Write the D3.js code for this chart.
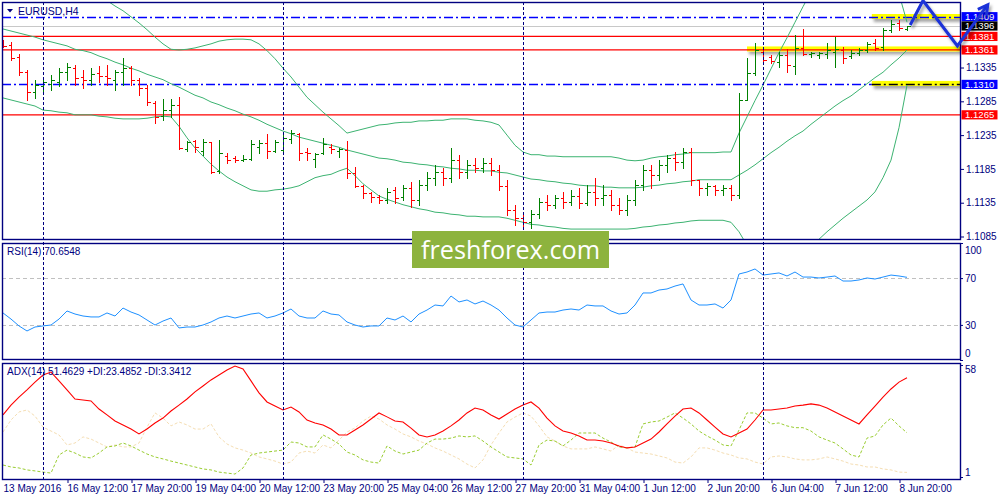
<!DOCTYPE html>
<html><head><meta charset="utf-8">
<script src="https://d3js.org/d3.v7.min.js"></script>
<style>
html,body{margin:0;padding:0;background:#fff;}
svg{display:block;font-family:"Liberation Sans",Arial,sans-serif;}
</style></head><body>
<svg id="chart" width="1000" height="500"></svg>
<script>
// ---------------- DATA ----------------
const symbolTitle = "EURUSD,H4";
const tickIdx = [0,8,16,24,32,40,48,56,64,72,80,88,96,104,112];
const tickLabels = ["13 May 2016","16 May 12:00","17 May 20:00","19 May 04:00","20 May 12:00","23 May 20:00","25 May 04:00","26 May 12:00","27 May 20:00","31 May 04:00","1 Jun 12:00","2 Jun 20:00","6 Jun 04:00","7 Jun 12:00","8 Jun 20:00"];
const weekSepIdx = [5,35,65,95];

const open = [1.1373,1.1368,1.1351,1.1328,1.1299,1.1308,1.1311,1.1314,1.1328,1.1334,
1.1321,1.1317,1.1327,1.1323,1.1317,1.1328,1.1334,1.1317,1.1305,1.1283,
1.1263,1.1272,1.1280,1.1214,1.1226,1.1212,1.1225,1.1182,1.1204,1.1201,
1.1198,1.1200,1.1217,1.1223,1.1212,1.1213,1.1229,1.1237,1.1210,1.1200,
1.1209,1.1217,1.1212,1.1213,1.1179,1.1160,1.1149,1.1143,1.1139,1.1154,
1.1143,1.1157,1.1139,1.1161,1.1172,1.1180,1.1172,1.1198,1.1180,1.1191,
1.1186,1.1194,1.1183,1.1160,1.1124,1.1112,1.1106,1.1118,1.1136,1.1132,
1.1142,1.1136,1.1145,1.1135,1.1151,1.1142,1.1146,1.1132,1.1124,1.1139,
1.1161,1.1183,1.1176,1.1191,1.1201,1.1195,1.1210,1.1169,1.1157,1.1160,
1.1154,1.1157,1.1146,1.1287,1.1327,1.1358,1.1351,1.1343,1.1354,1.1337,
1.1364,1.1355,1.1354,1.1355,1.1358,1.1361,1.1352,1.1357,1.1361,1.1371,
1.1365,1.1391,1.1401,1.1392];
const high = [1.1376,1.1373,1.1355,1.1331,1.1317,1.1320,1.1324,1.1334,1.1342,1.1339,
1.1331,1.1334,1.1337,1.1339,1.1331,1.1349,1.1337,1.1320,1.1309,1.1286,
1.1289,1.1289,1.1292,1.1226,1.1228,1.1229,1.1225,1.1228,1.1209,1.1204,
1.1206,1.1228,1.1228,1.1237,1.1228,1.1238,1.1243,1.1238,1.1216,1.1209,
1.1231,1.1222,1.1216,1.1226,1.1188,1.1161,1.1151,1.1146,1.1157,1.1158,
1.1161,1.1166,1.1169,1.1180,1.1191,1.1186,1.1216,1.1206,1.1198,1.1201,
1.1201,1.1201,1.1191,1.1169,1.1132,1.1121,1.1124,1.1142,1.1146,1.1146,
1.1151,1.1154,1.1157,1.1161,1.1172,1.1161,1.1154,1.1142,1.1146,1.1169,
1.1191,1.1191,1.1198,1.1206,1.1210,1.1216,1.1216,1.1169,1.1164,1.1161,
1.1161,1.1161,1.1297,1.1349,1.1371,1.1361,1.1354,1.1358,1.1362,1.1383,
1.1392,1.1358,1.1358,1.1371,1.1380,1.1365,1.1361,1.1364,1.1373,1.1377,
1.1394,1.1405,1.1405,1.1397];
const low = [1.1365,1.1346,1.1324,1.1287,1.1290,1.1299,1.1302,1.1308,1.1317,1.1309,
1.1305,1.1309,1.1314,1.1309,1.1302,1.1309,1.1309,1.1294,1.1280,1.1253,
1.1257,1.1262,1.1214,1.1212,1.1210,1.1206,1.1179,1.1179,1.1194,1.1195,
1.1197,1.1198,1.1209,1.1201,1.1210,1.1210,1.1223,1.1198,1.1198,1.1188,
1.1207,1.1209,1.1203,1.1172,1.1158,1.1142,1.1136,1.1135,1.1135,1.1135,
1.1139,1.1129,1.1132,1.1154,1.1161,1.1161,1.1166,1.1172,1.1172,1.1180,
1.1180,1.1176,1.1154,1.1117,1.1102,1.1098,1.1098,1.1112,1.1124,1.1127,
1.1127,1.1132,1.1127,1.1132,1.1132,1.1132,1.1124,1.1118,1.1117,1.1132,
1.1154,1.1157,1.1169,1.1180,1.1183,1.1186,1.1161,1.1146,1.1146,1.1146,
1.1146,1.1139,1.1142,1.1287,1.1324,1.1342,1.1342,1.1336,1.1328,1.1326,
1.1354,1.1351,1.1349,1.1349,1.1336,1.1342,1.1349,1.1354,1.1358,1.1361,
1.1361,1.1388,1.1391,1.1391];
const close = [1.1367,1.1349,1.1328,1.1299,1.1309,1.1314,1.1317,1.1328,1.1336,1.1320,
1.1317,1.1326,1.1323,1.1320,1.1328,1.1334,1.1317,1.1305,1.1284,1.1262,
1.1272,1.1280,1.1216,1.1225,1.1217,1.1225,1.1180,1.1209,1.1198,1.1198,
1.1200,1.1222,1.1223,1.1212,1.1225,1.1231,1.1238,1.1209,1.1209,1.1207,
1.1222,1.1214,1.1214,1.1179,1.1160,1.1149,1.1143,1.1139,1.1151,1.1142,
1.1157,1.1139,1.1161,1.1172,1.1180,1.1172,1.1198,1.1180,1.1191,1.1186,
1.1194,1.1183,1.1160,1.1124,1.1112,1.1106,1.1118,1.1136,1.1132,1.1142,
1.1136,1.1145,1.1135,1.1151,1.1142,1.1146,1.1132,1.1124,1.1139,1.1161,
1.1183,1.1176,1.1191,1.1201,1.1195,1.1210,1.1169,1.1157,1.1160,1.1154,
1.1157,1.1146,1.1287,1.1327,1.1361,1.1346,1.1345,1.1354,1.1339,1.1364,
1.1355,1.1357,1.1357,1.1361,1.1362,1.1349,1.1357,1.1361,1.1370,1.1364,
1.1391,1.1400,1.1394,1.1396];

const bbUpper = [1.1494,1.1491,1.1488,1.1485,1.1482,1.1479,1.1475,1.1471,1.1466,1.1460,
1.1454,1.1448,1.1441,1.1434,1.1426,1.1419,1.1410,1.1401,1.1391,1.1380,
1.1370,1.1362,1.1361,1.1362,1.1364,1.1367,1.1370,1.1374,1.1376,1.1377,
1.1377,1.1376,1.1370,1.1360,1.1348,1.1334,1.1321,1.1306,1.1291,1.1280,
1.1269,1.1259,1.1249,1.1238,1.1241,1.1244,1.1247,1.1250,1.1251,1.1253,
1.1254,1.1254,1.1256,1.1256,1.1257,1.1257,1.1259,1.1259,1.1259,1.1257,
1.1256,1.1254,1.1250,1.1235,1.1220,1.1210,1.1206,1.1206,1.1204,1.1204,
1.1203,1.1203,1.1203,1.1203,1.1203,1.1203,1.1203,1.1201,1.1198,1.1197,
1.1198,1.1201,1.1203,1.1204,1.1206,1.1207,1.1209,1.1209,1.1209,1.1209,
1.1210,1.1210,1.1238,1.1262,1.1286,1.1309,1.1333,1.1357,1.1379,1.1402,
1.1425,1.1447,1.1465,1.1479,1.1491,1.1500,1.1506,1.1509,1.1509,1.1506,
1.1494,1.1472,1.1444,1.1402];
const bbMiddle = [1.1392,1.1389,1.1386,1.1383,1.1380,1.1376,1.1373,1.1370,1.1367,1.1362,
1.1360,1.1357,1.1352,1.1348,1.1343,1.1339,1.1334,1.1330,1.1325,1.1321,
1.1317,1.1311,1.1306,1.1300,1.1294,1.1290,1.1284,1.1280,1.1275,1.1271,
1.1266,1.1262,1.1257,1.1251,1.1246,1.1241,1.1237,1.1232,1.1229,1.1226,
1.1223,1.1220,1.1217,1.1213,1.1210,1.1207,1.1204,1.1201,1.1200,1.1198,
1.1195,1.1194,1.1192,1.1191,1.1189,1.1188,1.1186,1.1185,1.1183,1.1183,
1.1182,1.1182,1.1180,1.1179,1.1176,1.1173,1.1170,1.1169,1.1167,1.1166,
1.1164,1.1163,1.1161,1.1160,1.1160,1.1158,1.1158,1.1157,1.1157,1.1157,
1.1158,1.1160,1.1161,1.1163,1.1164,1.1166,1.1167,1.1169,1.1169,1.1169,
1.1169,1.1169,1.1176,1.1183,1.1191,1.1200,1.1209,1.1217,1.1226,1.1234,
1.1241,1.1251,1.1260,1.1269,1.1278,1.1286,1.1293,1.1302,1.1311,1.1320,
1.1328,1.1339,1.1349,1.1361];
const bbLower = [1.1290,1.1287,1.1284,1.1281,1.1278,1.1272,1.1271,1.1269,1.1268,1.1265,
1.1265,1.1265,1.1263,1.1262,1.1260,1.1259,1.1259,1.1259,1.1260,1.1262,
1.1263,1.1262,1.1248,1.1231,1.1216,1.1204,1.1192,1.1182,1.1173,1.1166,
1.1160,1.1154,1.1152,1.1152,1.1154,1.1155,1.1157,1.1160,1.1166,1.1172,
1.1175,1.1177,1.1182,1.1186,1.1175,1.1163,1.1154,1.1145,1.1140,1.1136,
1.1132,1.1129,1.1126,1.1124,1.1121,1.1120,1.1118,1.1117,1.1115,1.1115,
1.1114,1.1114,1.1114,1.1112,1.1109,1.1106,1.1103,1.1102,1.1100,1.1099,
1.1097,1.1096,1.1096,1.1096,1.1096,1.1096,1.1096,1.1096,1.1096,1.1097,
1.1099,1.1100,1.1102,1.1103,1.1105,1.1106,1.1108,1.1109,1.1109,1.1109,
1.1109,1.1106,1.1092,1.1072,1.1058,1.1047,1.1040,1.1036,1.1036,1.1040,
1.1050,1.1065,1.1081,1.1092,1.1102,1.1112,1.1121,1.1130,1.1139,1.1151,
1.1172,1.1198,1.1246,1.1309];

const rsi = [40.2,35.0,29.1,24.8,28.2,29.1,29.9,35.0,41.9,39.3,
37.6,36.8,36.8,40.2,37.6,44.4,41.0,38.5,34.2,29.9,
33.3,35.9,27.4,28.2,28.2,29.9,32.5,35.9,37.6,35.9,
37.6,39.3,40.2,35.9,37.6,40.2,43.6,37.6,35.9,35.9,
41.9,39.3,38.5,32.5,29.9,28.2,29.1,29.1,35.9,34.2,
37.6,32.5,39.3,42.7,47.0,46.2,54.7,49.6,51.3,47.9,
50.4,47.0,42.7,35.9,29.9,28.2,34.2,40.2,41.0,41.0,
42.7,43.6,42.7,47.0,46.2,46.2,41.9,39.3,40.2,47.0,
57.3,57.3,59.8,60.7,63.2,65.0,51.3,47.0,47.0,47.9,
44.4,51.3,73.5,75.2,77.8,72.6,73.5,74.4,71.8,75.2,
70.9,70.9,70.1,70.9,71.8,67.5,67.5,68.4,70.1,69.2,
70.9,72.6,71.8,70.6548];
const rsiLevels = [70,30];
const rsiAxis = [100,70,30,0];

const adx = [32.6,37.6,41.7,45.3,49.3,52.9,54.4,49.9,45.3,40.7,
40.2,39.7,35.6,32.6,29.5,27.5,25.4,22.9,25.4,28.5,
31,34.6,37.6,40.7,44.3,47.3,50.4,52.9,55.5,57.5,
56,49.9,43.8,39.2,37.1,35.1,36.6,34.1,30,28.5,
27.5,25.4,22.4,22.4,24.9,27.5,30.5,33.6,31.6,29.5,
29,25.9,22.4,21.4,22.4,24.4,27,30,33.6,36.1,
35.1,32.6,30.5,33.1,35.6,37.6,39.2,36.1,31,27,
24.4,23.4,21.9,19.8,19.8,19.3,18.3,16.8,15.8,16.3,
18.3,20.3,23.9,28,32,35.6,36.1,33.6,30,26.4,
22.9,21.4,23.4,25.4,30,35.1,35.1,35.6,36.1,37.1,
37.6,38.2,37.6,36.1,34.1,32,30,28,32.6,37.1,
41.7,45.8,49.3,51.4629];
const plusDI = [7.1,6.1,5.6,4.6,4.1,3.5,3.0,12.2,14.7,13.2,
11.2,10.7,13.2,16.3,16.8,18.3,16.8,14.7,12.7,11.2,
10.2,9.1,8.1,7.1,6.1,5.1,4.6,3.5,3.0,2.5,
5.6,12.2,13.2,13.7,14.2,14.7,18.8,18.3,16.3,16.3,
22.4,20.3,17.8,13.7,12.2,9.7,8.6,8.1,16.8,14.2,
12.7,13.7,14.7,18.3,20.3,20.3,20.8,21.9,21.4,21.9,
19.3,16.3,13.7,11.2,10.7,10.2,7.1,17.3,19.8,19.3,
16.8,19.8,23.4,23.4,23.4,20.8,18.8,16.3,15.8,16.3,
28,29,29.5,31.5,33.6,31,28,24.4,21.9,19.8,
17.3,16.8,24.9,33.6,33.6,31,28,28.5,27,26.1,
26.1,24.4,21.4,19.8,18.3,15.3,12.2,11.2,20.8,21.9,
27.5,31,27,23.4852];
const minusDI = [23.9,30,34.1,35.1,32,26.4,24.4,22.4,17.3,18.3,
21.4,20.3,18.3,16.3,17.3,16.3,16.3,18.3,26.4,33.6,
31,27,29,27.5,25.4,25.4,28,21.4,17.8,15.8,
14.7,13.2,11.2,10.2,9.1,7.6,8.6,13.2,14.2,13.2,
17.3,15.8,19.8,23.9,26,29.5,32,30.5,27.5,25.4,
22.9,21.4,19.3,17.8,15.8,14.2,12.2,10.2,7.6,5.6,
9.7,17.3,23.4,29,31.5,33.6,32,27,21.4,19.3,
16.8,15.3,15.3,15.3,16.3,15.3,14.2,17.3,15.8,13.7,
13.2,12.7,11.7,10.7,8.6,8.1,11.2,15.8,15.8,14.7,
13.2,12.2,10.7,10.2,8.6,7.6,11.2,11.7,11.2,10.2,
9.7,9.7,10.2,11.2,10.2,9.1,7.6,7.1,6.1,6.1,
5.1,4.6,3.5,3.3412];
const adxAxis = [58,1];

const priceTicks = [1.1085,1.1135,1.1185,1.1235,1.1285,1.1335];
const blueLevels = [1.1409,1.1310];
const redLevels = [1.1381,1.1361,1.1265];
const bidPrice = 1.1396;
const zonePrices = [1.1409,1.1361,1.1310];
const zoneStartIdx = [108.6,93,108.6];
const arrowIdx = [113.4,115,119.3,123.1];
const arrowPrice = [1.1398,1.1434,1.1367,1.1428];

// ---------------- LAYOUT ----------------
const NAVY = "#000080";
const L = 2, R = 960;
const P1 = {t:2, b:239}, P2 = {t:243, b:359}, P3 = {t:363, b:479};
const svg = d3.select("#chart");
const defs = svg.append("defs");
function clip(id, p){ defs.append("clipPath").attr("id", id).append("rect").attr("x", L).attr("y", p.t).attr("width", R-L).attr("height", p.b-p.t); }
clip("c1", P1); clip("c2", P2); clip("c3", P3);
const sh = defs.append("filter").attr("id","shadow").attr("x","-10%").attr("y","-50%").attr("width","130%").attr("height","300%");
sh.append("feDropShadow").attr("dx",2).attr("dy",3).attr("stdDeviation",1.5).attr("flood-color","#000").attr("flood-opacity",0.35);

const x = d3.scaleLinear().domain([0,113]).range([3,907]);
const yP = d3.scaleLinear().domain([1.1085,1.1409]).range([236.5,17.5]);
const yR = d3.scaleLinear().domain([0,100]).range([360,243]);
const yA = d3.scaleLinear().domain([1,58]).range([477,365]);

svg.append("rect").attr("width",1000).attr("height",500).attr("fill","#fff");

// ---- main panel ----
const g1 = svg.append("g").attr("clip-path","url(#c1)");
g1.append("line").attr("x1",L).attr("x2",R).attr("y1",Math.round(yP(bidPrice))+0.5).attr("y2",Math.round(yP(bidPrice))+0.5).attr("stroke","#c8c8c8").attr("stroke-width",1);
g1.selectAll("rect.zone").data(zonePrices).join("rect").attr("class","zone")
  .attr("x",(d,i)=>x(zoneStartIdx[i])).attr("width",(d,i)=>R-x(zoneStartIdx[i]))
  .attr("y",d=>yP(d)-3.5).attr("height",5).attr("fill","#ffff00").attr("filter","url(#shadow)");
g1.selectAll("line.red").data(redLevels).join("line").attr("class","red")
  .attr("x1",L).attr("x2",R).attr("y1",d=>yP(d)).attr("y2",d=>yP(d)).attr("stroke","#ff0000").attr("stroke-width",1.3);
g1.selectAll("line.blue").data(blueLevels).join("line").attr("class","blue")
  .attr("x1",L).attr("x2",(d,i)=> i===1 ? x(zoneStartIdx[2]) : R).attr("y1",d=>yP(d)).attr("y2",d=>yP(d))
  .attr("stroke","#0000ff").attr("stroke-width",1.5).attr("stroke-dasharray","9,3,2,3");
g1.append("line").attr("x1",x(zoneStartIdx[2])).attr("x2",R).attr("y1",yP(zonePrices[2])).attr("y2",yP(zonePrices[2]))
  .attr("stroke","#000").attr("stroke-width",1.5).attr("stroke-dasharray","9,3,2,3");
const lineP = d3.line().x((d,i)=>x(i)).y(d=>yP(d));
[bbUpper,bbMiddle,bbLower].forEach(s=>{
  g1.append("path").attr("d",lineP(s)).attr("fill","none").attr("stroke","#3cb371").attr("stroke-width",1);
});
g1.append("g").selectAll("path").data(open).join("path")
  .attr("d",(o,i)=>{const xx=Math.round(x(i))+0.5;
     const yo=Math.round(yP(o))+0.5, yc=Math.round(yP(close[i]))+0.5;
     return `M${xx},${Math.round(yP(high[i]))}V${Math.round(yP(low[i]))+1}M${xx-3},${yo}H${xx}M${xx},${yc}H${xx+3}`;})
  .attr("fill","none").attr("stroke",(o,i)=> close[i]>=o ? "#008000" : "#ff0000").attr("stroke-width",1).attr("shape-rendering","crispEdges");

// ---- RSI panel ----
const g2 = svg.append("g").attr("clip-path","url(#c2)");
g2.selectAll("line.lv").data(rsiLevels).join("line").attr("x1",L).attr("x2",R)
  .attr("y1",d=>Math.round(yR(d))+0.5).attr("y2",d=>Math.round(yR(d))+0.5).attr("stroke","#c0c0c0").attr("stroke-dasharray","4,3");
g2.append("path").attr("d",d3.line().x((d,i)=>x(i)).y(d=>yR(d))(rsi)).attr("fill","none").attr("stroke","#1e90ff").attr("stroke-width",1);

// ---- ADX panel ----
const g3 = svg.append("g").attr("clip-path","url(#c3)");
const lineA = d3.line().x((d,i)=>x(i)).y(d=>yA(d));
g3.append("path").attr("d",lineA(minusDI)).attr("fill","none").attr("stroke","#f5deb3").attr("stroke-width",1).attr("stroke-dasharray","3,2");
g3.append("path").attr("d",lineA(plusDI)).attr("fill","none").attr("stroke","#9acd32").attr("stroke-width",1).attr("stroke-dasharray","3,2");
g3.append("path").attr("d",lineA(adx)).attr("fill","none").attr("stroke","#ff0000").attr("stroke-width",1.1);

// ---- week separators ----
svg.append("g").selectAll("line").data(weekSepIdx).join("line")
  .attr("x1",d=>Math.round(x(d))+0.5).attr("x2",d=>Math.round(x(d))+0.5).attr("y1",P1.t).attr("y2",P3.b)
  .attr("stroke",NAVY).attr("stroke-dasharray","3,2").attr("shape-rendering","crispEdges");

// ---- frames ----
[P1,P2,P3].forEach(p=>{
  svg.append("rect").attr("x",L+0.5).attr("y",p.t+0.5).attr("width",R-L).attr("height",p.b-p.t)
    .attr("fill","none").attr("stroke",NAVY).attr("stroke-width",1.4);
});

// ---- price axis ----
const ax1 = svg.append("g").attr("transform",`translate(${R},0)`)
  .call(d3.axisRight(yP).tickValues(priceTicks).tickSize(4).tickFormat(d3.format(".4f")));
ax1.select(".domain").remove();
ax1.selectAll("line").attr("stroke",NAVY);
ax1.selectAll("text").attr("fill",NAVY).attr("font-size",10).attr("x",6);

function tag(price, bg, dy){
  const yy = yP(price) + (dy||0);
  const g = svg.append("g");
  g.append("rect").attr("x",R+1.5).attr("y",yy-4.6).attr("width",36).attr("height",9.2).attr("fill",bg);
  g.append("text").attr("x",R+5).attr("y",yy+3.4).attr("fill","#fff").attr("font-size",9.6).text(d3.format(".4f")(price));
}
redLevels.forEach(p=>tag(p,"#ff0000"));
tag(blueLevels[1],"#0000ff");
tag(blueLevels[0],"#0000ff",-0.8);
tag(bidPrice,"#000",-0.3);

// ---- RSI axis ----
const ax2 = svg.append("g").attr("transform",`translate(${R},0)`)
  .call(d3.axisRight(yR).tickValues(rsiAxis).tickSize(3));
ax2.select(".domain").remove();
ax2.selectAll("line").attr("stroke",NAVY);
ax2.selectAll("text").attr("fill",NAVY).attr("font-size",10).attr("x",5)
  .attr("dy",d=> d===100 ? "1.0em" : d===0 ? "-0.35em" : "0.32em");

// ---- ADX axis ----
const ax3 = svg.append("g").attr("transform",`translate(${R},0)`)
  .call(d3.axisRight(yA).tickValues(adxAxis).tickSize(3));
ax3.select(".domain").remove();
ax3.selectAll("line").attr("stroke",NAVY);
ax3.selectAll("text").attr("fill",NAVY).attr("font-size",10).attr("x",5)
  .attr("dy",d=> d===58 ? "0.75em" : "-0.2em");

// ---- time axis ----
const axT = svg.append("g").attr("transform",`translate(0,${P3.b})`)
  .call(d3.axisBottom(x).tickValues(tickIdx).tickSize(4).tickFormat((d,i)=>tickLabels[i]));
axT.select(".domain").remove();
axT.selectAll("line").attr("stroke",NAVY).attr("transform","translate(0.5,0)").attr("opacity",(d,i)=> i===0?0:1);
axT.selectAll("text").attr("fill",NAVY).attr("font-size",10).attr("text-anchor","start").attr("x",0).attr("y",6);

// ---- panel titles ----
svg.append("path").attr("d","M7,9 L13,9 L10,12.5 Z").attr("fill",NAVY);
svg.append("text").attr("x",18).attr("y",15).attr("fill",NAVY).attr("font-size",10.5).text(symbolTitle);
svg.append("text").attr("x",7).attr("y",255).attr("fill",NAVY).attr("font-size",10)
  .text("RSI(14) " + d3.format(".4f")(rsi[rsi.length-1]));
svg.append("text").attr("x",7).attr("y",375).attr("fill",NAVY).attr("font-size",10)
  .text("ADX(14) " + d3.format(".4f")(adx[adx.length-1]) + " +DI:" + d3.format(".4f")(plusDI[plusDI.length-1]) + " -DI:" + d3.format(".4f")(minusDI[minusDI.length-1]));

// ---- watermark ----
svg.append("rect").attr("x",412).attr("y",231).attr("width",197).attr("height",37).attr("fill","#8db33e");
svg.append("text").attr("x",421).attr("y",258.5).attr("fill","#fff").attr("font-size",25)
  .attr("font-family","'Open Sans',Lato,sans-serif").attr("textLength",179).attr("lengthAdjust","spacingAndGlyphs").text("freshforex.com");

// ---- hand-drawn arrow ----
const arrowPts = arrowIdx.map((d,i)=>[x(d), yP(arrowPrice[i])]);
const last = arrowPts[arrowPts.length-1], prev = arrowPts[arrowPts.length-2];
const ang = Math.atan2(last[1]-prev[1], last[0]-prev[0]);
const ah = 11, spread = 0.5;
const headD = `M${last[0]-ah*Math.cos(ang-spread)},${last[1]-ah*Math.sin(ang-spread)}L${last[0]},${last[1]}L${last[0]-ah*Math.cos(ang+spread)},${last[1]-ah*Math.sin(ang+spread)}`;
const ag = svg.append("g").attr("filter","url(#shadow)");
ag.append("path").attr("d",d3.line()(arrowPts)).attr("fill","none").attr("stroke","#1a30d8").attr("stroke-width",3).attr("stroke-linejoin","miter");
ag.append("path").attr("d",headD).attr("fill","none").attr("stroke","#1a30d8").attr("stroke-width",3);
</script>
</body></html>
